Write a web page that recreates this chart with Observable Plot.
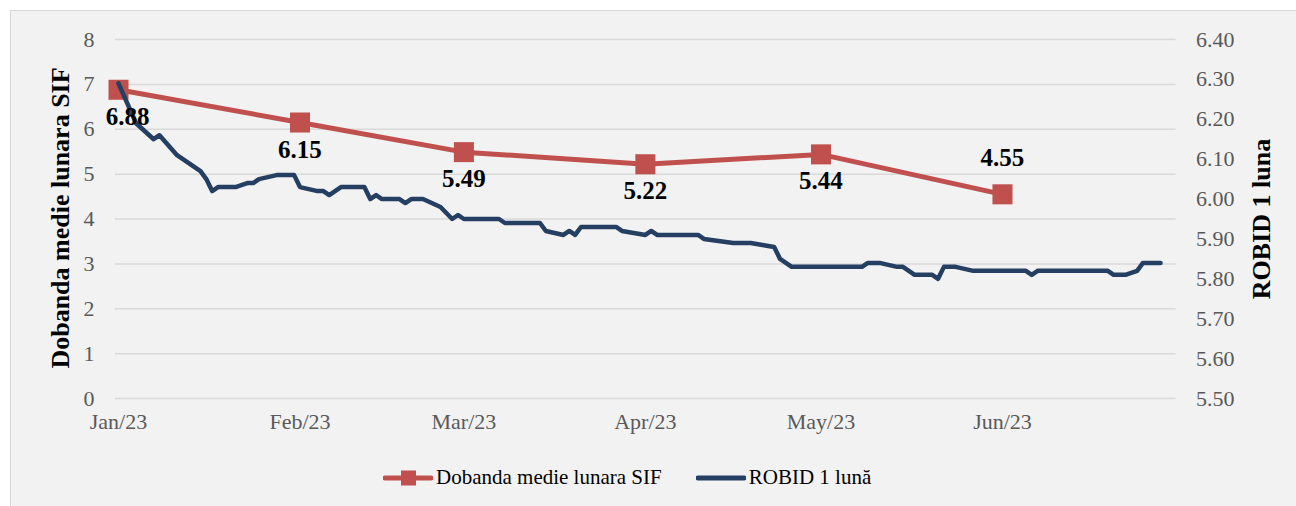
<!DOCTYPE html>
<html><head><meta charset="utf-8">
<script src="https://cdn.jsdelivr.net/npm/d3@7"></script>
<script src="https://cdn.jsdelivr.net/npm/@observablehq/plot@0.6"></script>
<style>
html,body{margin:0;padding:0;background:#fff;overflow:hidden;font-family:"Liberation Serif","Times New Roman",serif;}
#box{position:absolute;left:10px;top:10px;width:1292px;height:502px;background:#f2f2f2;border:1px solid #d9d9d9;box-sizing:border-box;}
#chart{position:absolute;left:0;top:0;}
#legend{position:absolute;left:372px;top:454px;display:flex;align-items:center;font-size:21px;color:#000;white-space:nowrap;}
#legend .item{display:flex;align-items:center;}
</style></head><body>
<div id="box"><div id="chart"></div><div id="legend"></div></div>
<script>
// ---- data ----
const sifMonths = ["2023-01-01","2023-02-01","2023-03-01","2023-04-01","2023-05-01","2023-06-01"];
const sifValues = [6.88, 6.15, 5.49, 5.22, 5.44, 4.55];
const monthTickLabels = ["Jan/23","Feb/23","Mar/23","Apr/23","May/23","Jun/23"];
const robidDates = [
 "2023-01-01","2023-01-04","2023-01-07","2023-01-08","2023-01-11","2023-01-13","2023-01-15","2023-01-16",
 "2023-01-17","2023-01-18","2023-01-21","2023-01-23","2023-01-24","2023-01-25","2023-01-28","2023-01-31",
 "2023-02-01","2023-02-04","2023-02-05","2023-02-06","2023-02-08","2023-02-12","2023-02-13","2023-02-14",
 "2023-02-15","2023-02-18","2023-02-19","2023-02-20","2023-02-22","2023-02-25","2023-02-27","2023-02-28",
 "2023-03-01","2023-03-07","2023-03-08","2023-03-14","2023-03-15","2023-03-18","2023-03-19","2023-03-20",
 "2023-03-21","2023-03-27","2023-03-28","2023-04-01","2023-04-02","2023-04-03","2023-04-10","2023-04-11",
 "2023-04-16","2023-04-19","2023-04-21","2023-04-23","2023-04-24","2023-04-26","2023-05-08","2023-05-09",
 "2023-05-11","2023-05-14","2023-05-15","2023-05-16","2023-05-17","2023-05-20","2023-05-21","2023-05-22",
 "2023-05-24","2023-05-27","2023-06-05","2023-06-06","2023-06-07","2023-06-19","2023-06-20","2023-06-22",
 "2023-06-24","2023-06-25","2023-06-28"
];
const robidValues = [
 6.29,6.19,6.15,6.16,6.11,6.09,6.07,6.05,
 6.02,6.03,6.03,6.04,6.04,6.05,6.06,6.06,
 6.03,6.02,6.02,6.01,6.03,6.03,6.00,6.01,
 6.00,6.00,5.99,6.00,6.00,5.98,5.95,5.96,
 5.95,5.95,5.94,5.94,5.92,5.91,5.92,5.91,
 5.93,5.93,5.92,5.91,5.92,5.91,5.91,5.90,
 5.89,5.89,5.885,5.88,5.85,5.83,5.83,5.84,
 5.84,5.83,5.83,5.82,5.81,5.81,5.80,5.83,
 5.83,5.82,5.82,5.81,5.82,5.82,5.81,5.81,
 5.82,5.84,5.84
];
const leftTicks = [0,1,2,3,4,5,6,7,8];
const rightTicks = [5.5,5.6,5.7,5.8,5.9,6.0,6.1,6.2,6.3,6.4];
const leftTitle = "Dobanda medie lunara SIF";
const rightTitle = "ROBID 1 luna";
const seriesNames = ["Dobanda medie lunara SIF", "ROBID 1 lună"];

// ---- build ----
const RED = "#c0504d", NAVY = "#243f62";
const rightMin = 5.5, rightMax = 6.4, leftMax = 8;
const toLeft = v => (v - rightMin) / (rightMax - rightMin) * leftMax;
const sif = sifMonths.map((d, i) => ({date: new Date(d), value: sifValues[i]}));
const robid = robidDates.map((d, i) => ({date: new Date(d), value: toLeft(robidValues[i])}));
const monthDates = sifMonths.map(d => new Date(d));
const last = sif.length - 1;

const chart = Plot.plot({
  width: 1285, height: 430,
  marginLeft: 107, marginRight: 118.4, marginTop: 28, marginBottom: 43,
  style: {fontFamily: "'Liberation Serif','Times New Roman',serif", fontSize: "22px", color: "#595959", background: "transparent", overflow: "visible"},
  x: {type: "utc", domain: [new Date("2023-01-01"), new Date("2023-07-01")]},
  y: {domain: [0, 8]},
  marks: [
    Plot.ruleY(leftTicks, {stroke: "#d9d9d9", strokeWidth: 1.5, insetLeft: -3, insetRight: 2}),
    Plot.axisY(leftTicks, {anchor: "left", tickSize: 0, tickPadding: 24, label: null, tickFormat: d => String(d)}),
    Plot.axisY(rightTicks.map(toLeft), {anchor: "right", tickSize: 0, tickPadding: 18, label: null, tickFormat: (d, i) => rightTicks[i].toFixed(2)}),
    Plot.axisX(monthDates, {anchor: "bottom", tickSize: 0, tickPadding: 15, label: null, tickFormat: (d, i) => monthTickLabels[i]}),
    Plot.text([leftTitle], {frameAnchor: "left", textAnchor: "middle", rotate: -90, dx: -58, dy: -1, fontSize: 26, fontWeight: "bold", fill: "#000"}),
    Plot.text([rightTitle], {frameAnchor: "right", textAnchor: "middle", rotate: -90, dx: 84, fontSize: 26, fontWeight: "bold", fill: "#000"}),
    Plot.line(sif, {x: "date", y: "value", stroke: RED, strokeWidth: 5}),
    Plot.dot(sif, {x: "date", y: "value", symbol: "square", r: 11.3, fill: RED, stroke: "none"}),
    Plot.line(robid, {x: "date", y: "value", stroke: NAVY, strokeWidth: 4.5, strokeLinejoin: "round", strokeLinecap: "round"}),
    Plot.text(sif, {filter: (d, i) => i === 0, x: "date", y: "value", text: d => d.value.toFixed(2), dx: 9, dy: 27, fontSize: 25, fontWeight: "bold", fill: "#000"}),
    Plot.text(sif, {filter: (d, i) => i > 0 && i < last, x: "date", y: "value", text: d => d.value.toFixed(2), dy: 27, fontSize: 25, fontWeight: "bold", fill: "#000"}),
    Plot.text(sif, {filter: (d, i) => i === last, x: "date", y: "value", text: d => d.value.toFixed(2), dy: -36, fontSize: 25, fontWeight: "bold", fill: "#000"})
  ]
});
document.getElementById("chart").appendChild(chart);

// legend
const legend = document.getElementById("legend");
legend.innerHTML = `
 <div class="item"><svg width="50" height="16"><line x1="2" y1="8" x2="48" y2="8" stroke="${RED}" stroke-width="5" stroke-linecap="round"/><rect x="18" y="0.5" width="15" height="15" fill="${RED}"/></svg><span style="margin-left:3px">${seriesNames[0]}</span></div>
 <div class="item" style="margin-left:34px"><svg width="50" height="16"><line x1="2" y1="8" x2="48" y2="8" stroke="${NAVY}" stroke-width="5" stroke-linecap="round"/></svg><span style="margin-left:3px">${seriesNames[1]}</span></div>`;
</script>
</body></html>
